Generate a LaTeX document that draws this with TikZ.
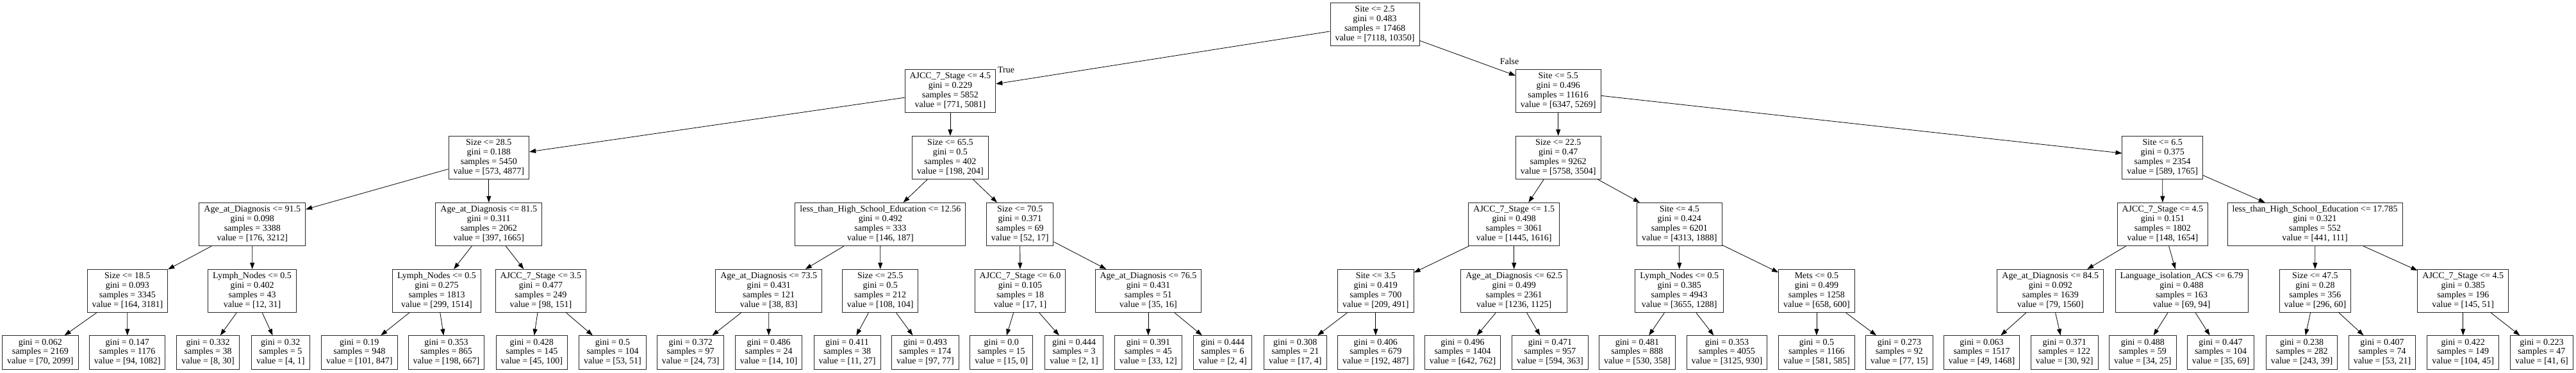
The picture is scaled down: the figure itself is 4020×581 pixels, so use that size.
\documentclass[tikz,border=0pt]{standalone}
\usepackage{fontspec}
\setmainfont{Liberation Serif}
\usetikzlibrary{arrows.meta}
\newcommand{\tsplit}[4]{\begin{tabular}{c}#1\\gini = #2\\samples = #3\\value = [#4]\end{tabular}}
\newcommand{\tleaf}[3]{\begin{tabular}{c}gini = #1\\samples = #2\\value = [#3]\end{tabular}}

\begin{document}
\begin{tikzpicture}[x=1pt,y=-1pt,
    box/.style={draw=black!85,line width=1pt,rectangle,inner xsep=1.5pt,inner ysep=4pt,
      font=\fontsize{14}{14.8}\selectfont},
    edge/.style={-{Triangle[length=10pt,width=7pt]},line width=0.8pt},
    lbl/.style={font=\fontsize{14}{14.8}\selectfont,anchor=base,inner sep=0pt}]
  \useasboundingbox (0,0) rectangle (4020,581);
  % rank 0 and 1
  \node[box] (n)   at (2145.5,38) {\tsplit{Site <= 2.5}{0.483}{17468}{7118, 10350}};
  \node[box] (nl)  at (1482.9,142) {\tsplit{AJCC\_7\_Stage <= 4.5}{0.229}{5852}{771, 5081}};
  \node[box] (nr)  at (2431.7,142) {\tsplit{Site <= 5.5}{0.496}{11616}{6347, 5269}};
  % rank 2
  \node[box] (nll) at (762.8,246)  {\tsplit{Size <= 28.5}{0.188}{5450}{573, 4877}};
  \node[box] (nlr) at (1482.9,246) {\tsplit{Size <= 65.5}{0.5}{402}{198, 204}};
  \node[box] (nrl) at (2431.7,246) {\tsplit{Size <= 22.5}{0.47}{9262}{5758, 3504}};
  \node[box] (nrr) at (3374.7,246) {\tsplit{Site <= 6.5}{0.375}{2354}{589, 1765}};
  % rank 3
  \node[box] (nlll) at (393.8,350)  {\tsplit{Age\_at\_Diagnosis <= 91.5}{0.098}{3388}{176, 3212}};
  \node[box] (nllr) at (762.8,350)  {\tsplit{Age\_at\_Diagnosis <= 81.5}{0.311}{2062}{397, 1665}};
  \node[box] (nlrl) at (1373.9,350) {\tsplit{less\_than\_High\_School\_Education <= 12.56}{0.492}{333}{146, 187}};
  \node[box] (nlrr) at (1591.7,350) {\tsplit{Size <= 70.5}{0.371}{69}{52, 17}};
  \node[box] (nrll) at (2362.7,350) {\tsplit{AJCC\_7\_Stage <= 1.5}{0.498}{3061}{1445, 1616}};
  \node[box] (nrlr) at (2620.8,350) {\tsplit{Site <= 4.5}{0.424}{6201}{4313, 1888}};
  \node[box] (nrrl) at (3374.9,350) {\tsplit{AJCC\_7\_Stage <= 4.5}{0.151}{1802}{148, 1654}};
  \node[box] (nrrr) at (3612.6,350) {\tsplit{less\_than\_High\_School\_Education <= 17.785}{0.321}{552}{441, 111}};
  % rank 4
  \node[box] (nllll) at (198.9,454)  {\tsplit{Size <= 18.5}{0.093}{3345}{164, 3181}};
  \node[box] (nlllr) at (393.6,454)  {\tsplit{Lymph\_Nodes <= 0.5}{0.402}{43}{12, 31}};
  \node[box] (nllrl) at (681.5,454)  {\tsplit{Lymph\_Nodes <= 0.5}{0.275}{1813}{299, 1514}};
  \node[box] (nllrr) at (843.9,454)  {\tsplit{AJCC\_7\_Stage <= 3.5}{0.477}{249}{98, 151}};
  \node[box] (nlrll) at (1199.7,454) {\tsplit{Age\_at\_Diagnosis <= 73.5}{0.431}{121}{38, 83}};
  \node[box] (nlrlr) at (1373.7,454) {\tsplit{Size <= 25.5}{0.5}{212}{108, 104}};
  \node[box] (nlrrl) at (1592,454)   {\tsplit{AJCC\_7\_Stage <= 6.0}{0.105}{18}{17, 1}};
  \node[box] (nlrrr) at (1791.9,454) {\tsplit{Age\_at\_Diagnosis <= 76.5}{0.431}{51}{35, 16}};
  \node[box] (nrlll) at (2146.8,454) {\tsplit{Site <= 3.5}{0.419}{700}{209, 491}};
  \node[box] (nrllr) at (2362.7,454) {\tsplit{Age\_at\_Diagnosis <= 62.5}{0.499}{2361}{1236, 1125}};
  \node[box] (nrlrl) at (2620.7,454) {\tsplit{Lymph\_Nodes <= 0.5}{0.385}{4943}{3655, 1288}};
  \node[box] (nrlrr) at (2834.9,454) {\tsplit{Mets <= 0.5}{0.499}{1258}{658, 600}};
  \node[box] (nrrll) at (3199.8,454) {\tsplit{Age\_at\_Diagnosis <= 84.5}{0.092}{1639}{79, 1560}};
  \node[box] (nrrlr) at (3404.5,454) {\tsplit{Language\_isolation\_ACS <= 6.79}{0.488}{163}{69, 94}};
  \node[box] (nrrrl) at (3612.9,454) {\tsplit{Size <= 47.5}{0.28}{356}{296, 60}};
  \node[box] (nrrrr) at (3843.7,454) {\tsplit{AJCC\_7\_Stage <= 4.5}{0.385}{196}{145, 51}};
  % leaves
  \node[box] (nlllll) at (62.9,550)   {\tleaf{0.062}{2169}{70, 2099}};
  \node[box] (nllllr) at (198.7,550)  {\tleaf{0.147}{1176}{94, 1082}};
  \node[box] (nlllrl) at (324.6,550)  {\tleaf{0.332}{38}{8, 30}};
  \node[box] (nlllrr) at (437.8,550)  {\tleaf{0.32}{5}{4, 1}};
  \node[box] (nllrll) at (560.8,550)  {\tleaf{0.19}{948}{101, 847}};
  \node[box] (nllrlr) at (696.5,550)  {\tleaf{0.353}{865}{198, 667}};
  \node[box] (nllrrl) at (829.8,550)  {\tleaf{0.428}{145}{45, 100}};
  \node[box] (nllrrr) at (956,550)    {\tleaf{0.5}{104}{53, 51}};
  \node[box] (nlrlll) at (1077.7,550) {\tleaf{0.372}{97}{24, 73}};
  \node[box] (nlrllr) at (1199.6,550) {\tleaf{0.486}{24}{14, 10}};
  \node[box] (nlrlrl) at (1322,550)   {\tleaf{0.411}{38}{11, 27}};
  \node[box] (nlrlrr) at (1443.9,550) {\tleaf{0.493}{174}{97, 77}};
  \node[box] (nlrrll) at (1562.7,550) {\tleaf{0.0}{15}{15, 0}};
  \node[box] (nlrrlr) at (1676.1,550) {\tleaf{0.444}{3}{2, 1}};
  \node[box] (nlrrrl) at (1791.9,550) {\tleaf{0.391}{45}{33, 12}};
  \node[box] (nlrrrr) at (1908.1,550) {\tleaf{0.444}{6}{2, 4}};
  \node[box] (nrllll) at (2021.3,550) {\tleaf{0.308}{21}{17, 4}};
  \node[box] (nrlllr) at (2146.8,550) {\tleaf{0.406}{679}{192, 487}};
  \node[box] (nrllrl) at (2282.5,550) {\tleaf{0.496}{1404}{642, 762}};
  \node[box] (nrllrr) at (2418.9,550) {\tleaf{0.471}{957}{594, 363}};
  \node[box] (nrlrll) at (2554.9,550) {\tleaf{0.481}{888}{530, 358}};
  \node[box] (nrlrlr) at (2694.9,550) {\tleaf{0.353}{4055}{3125, 930}};
  \node[box] (nrlrrl) at (2834.9,550) {\tleaf{0.5}{1166}{581, 585}};
  \node[box] (nrlrrr) at (2963.9,550) {\tleaf{0.273}{92}{77, 15}};
  \node[box] (nrrlll) at (3092.5,550) {\tleaf{0.063}{1517}{49, 1468}};
  \node[box] (nrrllr) at (3221.7,550) {\tleaf{0.371}{122}{30, 92}};
  \node[box] (nrrlrl) at (3343.8,550) {\tleaf{0.488}{59}{34, 25}};
  \node[box] (nrrlrr) at (3465.5,550) {\tleaf{0.447}{104}{35, 69}};
  \node[box] (nrrrll) at (3592.1,550) {\tleaf{0.238}{282}{243, 39}};
  \node[box] (nrrrlr) at (3717.5,550) {\tleaf{0.407}{74}{53, 21}};
  \node[box] (nrrrrl) at (3843.7,550) {\tleaf{0.422}{149}{104, 45}};
  \node[box] (nrrrrr) at (3966.4,550) {\tleaf{0.223}{47}{41, 6}};
  % edges
  \path (n) edge[edge] (nl) edge[edge] (nr);
  \path (nl) edge[edge] (nll) edge[edge] (nlr);
  \path (nr) edge[edge] (nrl) edge[edge] (nrr);
  \path (nll) edge[edge] (nlll) edge[edge] (nllr);
  \path (nlr) edge[edge] (nlrl) edge[edge] (nlrr);
  \path (nrl) edge[edge] (nrll) edge[edge] (nrlr);
  \path (nrr) edge[edge] (nrrl) edge[edge] (nrrr);
  \path (nlll) edge[edge] (nllll) edge[edge] (nlllr);
  \path (nllr) edge[edge] (nllrl) edge[edge] (nllrr);
  \path (nlrl) edge[edge] (nlrll) edge[edge] (nlrlr);
  \path (nlrr) edge[edge] (nlrrl) edge[edge] (nlrrr);
  \path (nrll) edge[edge] (nrlll) edge[edge] (nrllr);
  \path (nrlr) edge[edge] (nrlrl) edge[edge] (nrlrr);
  \path (nrrl) edge[edge] (nrrll) edge[edge] (nrrlr);
  \path (nrrr) edge[edge] (nrrrl) edge[edge] (nrrrr);
  \path (nllll) edge[edge] (nlllll) edge[edge] (nllllr);
  \path (nlllr) edge[edge] (nlllrl) edge[edge] (nlllrr);
  \path (nllrl) edge[edge] (nllrll) edge[edge] (nllrlr);
  \path (nllrr) edge[edge] (nllrrl) edge[edge] (nllrrr);
  \path (nlrll) edge[edge] (nlrlll) edge[edge] (nlrllr);
  \path (nlrlr) edge[edge] (nlrlrl) edge[edge] (nlrlrr);
  \path (nlrrl) edge[edge] (nlrrll) edge[edge] (nlrrlr);
  \path (nlrrr) edge[edge] (nlrrrl) edge[edge] (nlrrrr);
  \path (nrlll) edge[edge] (nrllll) edge[edge] (nrlllr);
  \path (nrllr) edge[edge] (nrllrl) edge[edge] (nrllrr);
  \path (nrlrl) edge[edge] (nrlrll) edge[edge] (nrlrlr);
  \path (nrlrr) edge[edge] (nrlrrl) edge[edge] (nrlrrr);
  \path (nrrll) edge[edge] (nrrlll) edge[edge] (nrrllr);
  \path (nrrlr) edge[edge] (nrrlrl) edge[edge] (nrrlrr);
  \path (nrrrl) edge[edge] (nrrrll) edge[edge] (nrrrlr);
  \path (nrrrr) edge[edge] (nrrrrl) edge[edge] (nrrrrr);
  \node[lbl] (truelbl)  at (1570,113.7) {True};
  \node[lbl] (falselbl) at (2355.5,100) {False};
\end{tikzpicture}
\end{document}
